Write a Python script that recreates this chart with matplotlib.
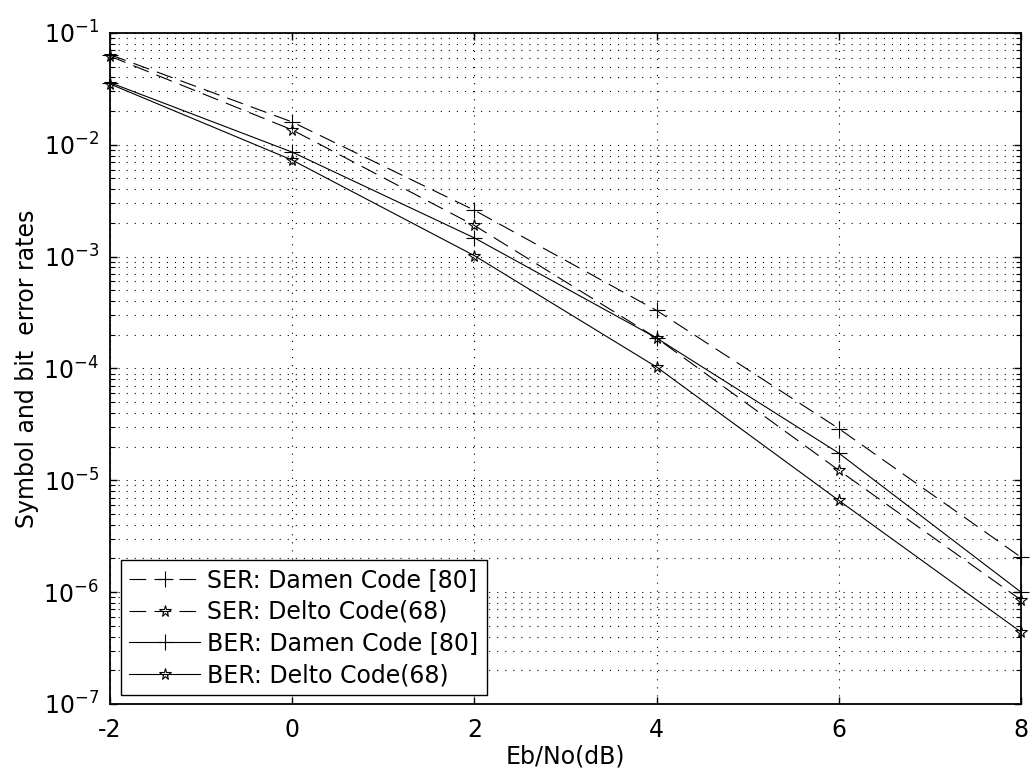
import numpy as np
import matplotlib
matplotlib.use("Agg")
import matplotlib.pyplot as plt
from matplotlib.ticker import LogLocator, NullFormatter

plt.rcParams['font.family'] = ['DejaVu Sans']
plt.rcParams['axes.unicode_minus'] = False
plt.rcParams['lines.scale_dashes'] = False

# Eb/No in dB
ebno = [-2, 0, 2, 4, 6, 8]

# error rates
ser_damen = [0.064, 0.016, 0.0026, 3.3e-4, 2.9e-5, 2.05e-6]
ser_delto = [0.062, 0.0136, 0.0019, 1.87e-4, 1.23e-5, 8.5e-7]
ber_damen = [0.036, 0.0086, 0.00147, 1.87e-4, 1.75e-5, 1.0e-6]
ber_delto = [0.035, 0.0073, 0.00102, 1.03e-4, 6.6e-6, 4.4e-7]

labels = ['SER: Damen Code [80]', 'SER: Delto Code(68)',
          'BER: Damen Code [80]', 'BER: Delto Code(68)']

FS = 17

fig = plt.figure(figsize=(10.30, 7.76), dpi=100)
ax = fig.add_axes([0.1068, 0.0928, 0.8845, 0.8647])

dash = (0, (12, 6))
kw = dict(color='k', lw=0.8, mew=0.8, clip_on=False)
ax.semilogy(ebno, ser_damen, ls=dash, marker='+', ms=11, label=labels[0], **kw)
ax.semilogy(ebno, ser_delto, ls=dash, marker='*', ms=8.5, mfc='none', label=labels[1], **kw)
ax.semilogy(ebno, ber_damen, ls='-', marker='+', ms=11, label=labels[2], **kw)
ax.semilogy(ebno, ber_delto, ls='-', marker='*', ms=8.5, mfc='none', label=labels[3], **kw)

ax.set_xlim(-2, 8)
ax.set_ylim(1e-7, 1e-1)
ax.set_xticks([-2, 0, 2, 4, 6, 8])
ax.yaxis.set_major_locator(LogLocator(base=10, numticks=10))
ax.yaxis.set_minor_locator(LogLocator(base=10, subs=np.arange(2, 10), numticks=100))
ax.yaxis.set_minor_formatter(NullFormatter())

dots = (0, (0.8, 5))
ax.grid(True, which='major', axis='both', color='k', ls=dots, lw=0.8)
ax.grid(True, which='minor', axis='y', color='k', ls=dots, lw=0.8)

ax.tick_params(which='both', direction='in', top=True, right=True, labelsize=FS)
ax.tick_params(axis='x', pad=10)
ax.tick_params(axis='y', pad=8)
ax.tick_params(which='major', length=5, width=1)
ax.tick_params(which='minor', length=3.5, width=0.8)
for s in ax.spines.values():
    s.set_linewidth(1.3)

ax.set_xlabel('Eb/No(dB)', fontsize=FS, labelpad=2)
ax.set_ylabel('Symbol and bit  error rates', fontsize=FS)
ax.yaxis.set_label_coords(-0.078, 0.5)

leg = ax.legend(loc='lower left', bbox_to_anchor=(0.012, 0.013), borderaxespad=0,
                fontsize=FS, handlelength=3.0, handletextpad=0.3,
                fancybox=False, framealpha=1, edgecolor='k',
                labelspacing=0.32, borderpad=0.35)
leg.get_frame().set_linewidth(1.0)

fig.savefig('out.png', dpi=100)
